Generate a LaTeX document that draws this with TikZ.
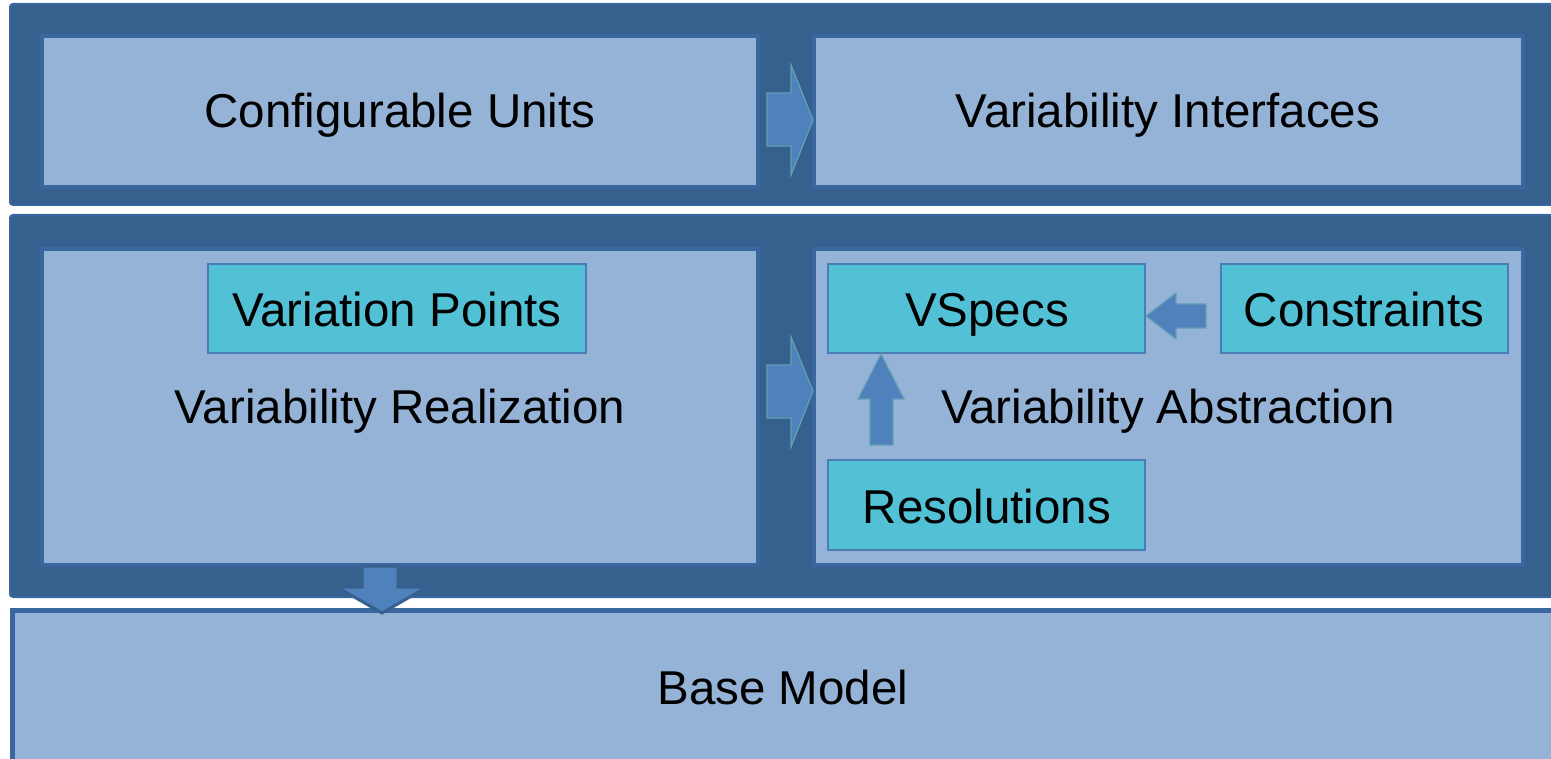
\documentclass[tikz,border=0pt]{standalone}
\usepackage{fontspec}
\setmainfont{Liberation Sans}
\definecolor{panel}{HTML}{36618F}
\definecolor{paneledge}{HTML}{3B67A0}
\definecolor{light}{HTML}{95B3D7}
\definecolor{cyanbox}{HTML}{52C0D5}
\definecolor{cyanedge}{HTML}{4A7DB5}
\definecolor{arrowfill}{HTML}{4F81BD}
\definecolor{arrowedge}{HTML}{62A0B2}
\tikzset{
  panelbox/.style={fill=panel, draw=paneledge, line width=2, rounded corners=3},
  lightbox/.style={fill=light, draw=paneledge, line width=4},
  cyanrect/.style={fill=cyanbox, draw=cyanedge, line width=1.5},
  blockarrow/.style={fill=arrowfill, draw=arrowedge, line width=1.2, line join=miter},
  lbl/.style={anchor=base, inner sep=0, font=\fontsize{47.5}{52}\selectfont, text=black}
}
\begin{document}
\begin{tikzpicture}[x=1pt,y=-1pt]
\useasboundingbox (0,0) rectangle (1551,759);
% panels
\draw[panelbox] (10,4) rectangle (1570,205);
\draw[panelbox] (10,215) rectangle (1570,597);
% base model
\draw[fill=light, draw=paneledge, line width=5] (12.5,610.5) rectangle (1575,780);
% light boxes
\draw[lightbox] (42,36) rectangle (758,187);
\draw[lightbox] (814,36) rectangle (1523,187);
\draw[lightbox] (42,249) rectangle (758,565);
\draw[lightbox] (814,249) rectangle (1523,565);
% cyan boxes
\draw[cyanrect] (208,264) rectangle (586,353);
\draw[cyanrect] (828,264) rectangle (1145,353);
\draw[cyanrect] (1221,264) rectangle (1508,353);
\draw[cyanrect] (828,460) rectangle (1145,550);
% arrows
\draw[blockarrow] (767,93) -- (791,93) -- (791,65) -- (813,120) -- (791,175) -- (791,146) -- (767,146) -- cycle;
\draw[blockarrow] (767,365) -- (791,365) -- (791,337) -- (813,391) -- (791,447) -- (791,418) -- (767,418) -- cycle;
\draw[blockarrow] (1206,304) -- (1176,304) -- (1176,293) -- (1146,316) -- (1176,339) -- (1176,328) -- (1206,328) -- cycle;
\draw[blockarrow] (870,445) -- (870,399) -- (858,399) -- (881,354) -- (904,399) -- (893,399) -- (893,445) -- cycle;
\draw[fill=arrowfill, draw=panel, line width=3, line join=miter] (362,566) -- (398,566) -- (398,587) -- (427,587) -- (382,613) -- (337,587) -- (362,587) -- cycle;
% labels
\node[lbl] (cu) at (400,128) {Configurable Units};
\node[lbl] (vi) at (1168,128) {Variability Interfaces};
\node[lbl] (vp) at (397,327) {Variation Points};
\node[lbl] (vs) at (987,327) {VSpecs};
\node[lbl] (co) at (1364,327) {Constraints};
\node[lbl] (vr) at (400,423) {Variability Realization};
\node[lbl] (va) at (1168,423) {Variability Abstraction};
\node[lbl] (re) at (987,523) {Resolutions};
\node[lbl] (bm) at (783,704) {Base Model};
\end{tikzpicture}
\end{document}
